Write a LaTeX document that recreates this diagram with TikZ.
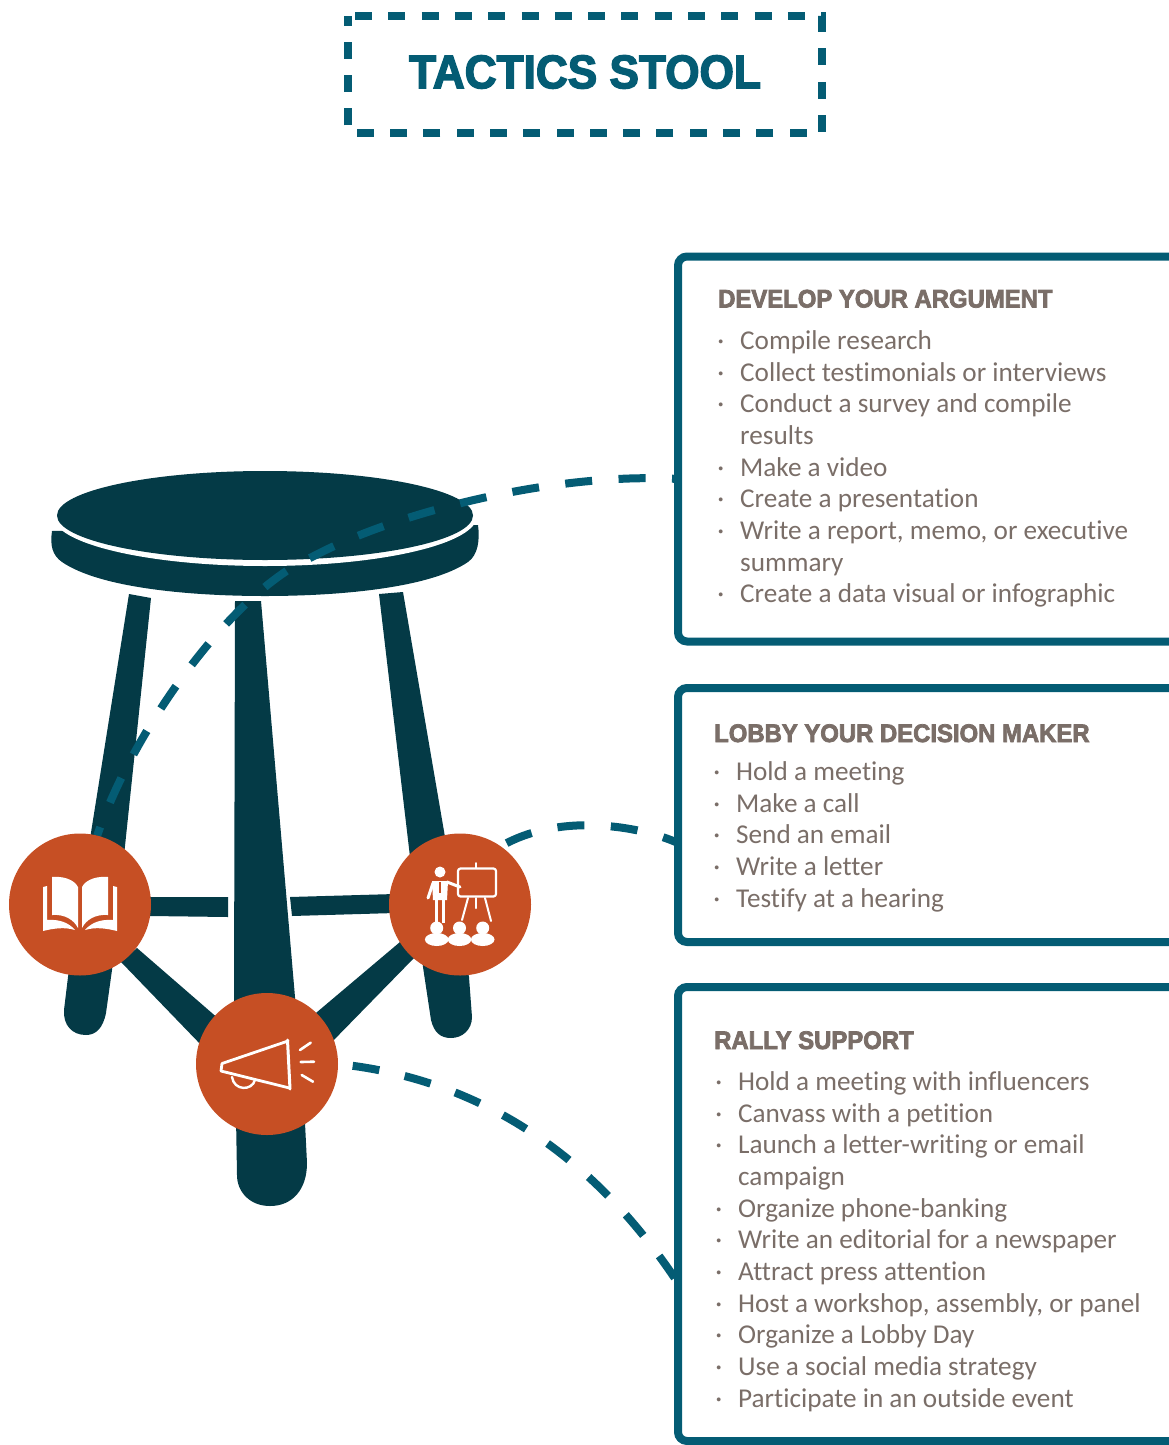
\documentclass[tikz,border=0pt]{standalone}
\usepackage{fontspec}
\setmainfont[Ligatures=NoCommon]{Carlito}
\newfontfamily\heavy[BoldFeatures={FakeBold=3,FakeStretch=0.94}]{Liberation Sans}
\usetikzlibrary{calc}
\pgfdeclarelayer{stool}
\pgfdeclarelayer{links}
\pgfsetlayers{stool,links,main}
\definecolor{teal}{HTML}{045C74}
\definecolor{darkstool}{HTML}{043A46}
\definecolor{rust}{HTML}{C64F24}
\definecolor{txt}{HTML}{7A6E68}
\newcommand{\bl}{\llap{·\hspace{16pt}}}
\tikzset{
  x=1pt,y=-1pt,
  wood/.style={fill=darkstool,draw=none},
  panel/.style={draw=teal,line width=8pt,rounded corners=9pt,rectangle,minimum width=700pt,anchor=north west,inner sep=0pt,outer sep=0pt},
  badge/.style={circle,fill=rust,draw=none,minimum size=142pt,inner sep=0pt,outer sep=0pt},
  link/.style={draw=teal,line width=8pt},
  headtxt/.style={anchor=base west,inner sep=0pt,text=txt,font={\heavy\bfseries\fontsize{25.4}{28}\selectfont}},
  bodytxt/.style={anchor=north west,inner sep=0pt,align=left,text=txt,font={\fontsize{27.2}{31.65}\selectfont}},
  ico/.style={draw=white,line cap=round,line join=round},
  icofill/.style={fill=white,draw=none},
}
\begin{document}
\begin{tikzpicture}
\useasboundingbox (0,0) rectangle (1169,1445);
\clip (0,0) rectangle (1169,1445);
% title
\node[rectangle,minimum width=474pt,minimum height=117pt,inner sep=0pt,outer sep=0pt] (titlebox) at (585,74.5) {};
\draw[teal,line width=8pt,dash pattern=on 17pt off 16.3pt,dash phase=26.3pt] (titlebox.north west) -- (titlebox.north east) -- (titlebox.south east) -- (titlebox.south west) -- cycle;
\node[inner sep=0pt,text=teal,font={\heavy\bfseries\fontsize{47}{50}\selectfont}] (title) at (585,72) {TACTICS STOOL};
% panels
\node[panel,minimum height=385pt] (b1) at (678,256.5) {};
\node[panel,minimum height=254pt] (b2) at (678,688) {};
\node[panel,minimum height=454pt] (b3) at (678,987) {};
% panel text
\node[headtxt] (h1) at (718,307.5) {DEVELOP YOUR ARGUMENT};
\node[bodytxt] (t1) at (740,330.5) {\bl Compile research\\\bl Collect testimonials or interviews\\\bl Conduct a survey and compile\\results\\\bl Make a video\\\bl Create a presentation\\\bl Write a report, memo, or executive\\summary\\\bl Create a data visual or infographic};
\node[headtxt] (h2) at (714,742) {LOBBY YOUR DECISION MAKER};
\node[bodytxt] (t2) at (736,761.5) {\bl Hold a meeting\\\bl Make a call\\\bl Send an email\\\bl Write a letter\\\bl Testify at a hearing};
\node[headtxt] (h3) at (714,1049) {RALLY SUPPORT};
\node[bodytxt] (t3) at (738,1071.5) {\bl Hold a meeting with influencers\\\bl Canvass with a petition\\\bl Launch a letter-writing or email\\campaign\\\bl Organize phone-banking\\\bl Write an editorial for a newspaper\\\bl Attract press attention\\\bl Host a workshop, assembly, or panel\\\bl Organize a Lobby Day\\\bl Use a social media strategy\\\bl Participate in an outside event};
% badges
\node[badge] (lc) at (80,904.5) {};
\node[badge] (rc) at (460,904.5) {};
\node[badge] (bc) at (267,1064) {};
\coordinate (k1) at (312,557);
% stool
\begin{pgfonlayer}{stool}
\fill[wood] (52,531) .. controls (50,545) and (52,555) .. (62,562) .. controls (100,588) and (190,596) .. (265,596) .. controls (340,596) and (430,588) .. (468,562) .. controls (478,555) and (480,540) .. (478,525) -- cycle;
\fill[white] (265,516) ellipse [x radius=212,y radius=50];
\fill[wood] (265,515.5) ellipse [x radius=208,y radius=44.5];
\fill[wood] (129,594) -- (151,598) -- (112,970) -- (106,1013) .. controls (103,1028) and (96,1035) .. (86,1035) .. controls (72,1035) and (63,1025) .. (64,1010) -- (68,977) -- cycle;
\fill[wood] (379,594) -- (403,592) -- (469,977) -- (472,1017) .. controls (472,1030) and (462,1038) .. (451,1038) .. controls (440,1038) and (434,1032) .. (431,1020) -- (423,967) -- cycle;
\fill[wood] (235,601) -- (261,601) -- (295,997) -- (305,1123) -- (307,1163) .. controls (307,1190) and (292,1206) .. (270,1206) .. controls (250,1206) and (237,1192) .. (237,1175) -- (234,1000) -- cycle;
\fill[wood] (150,897) -- (228,897) -- (228,917) -- (150,916) -- cycle;
\fill[wood] (290,897) -- (395,894) -- (395,913) -- (292,916) -- cycle;
\fill[wood] (137,948) -- (220,1020) -- (204,1048) -- (121,962) -- cycle;
\fill[wood] (400,942) -- (310,1018) -- (328,1046) -- (414,958) -- cycle;
\end{pgfonlayer}
% connectors
\begin{pgfonlayer}{links}
\draw[link,dash pattern=on 27pt off 26.5pt,dash phase=21pt] ([yshift=-30pt]b1.west) .. controls (560,472) and (400,510) .. (k1) .. controls (235,590) and (135,725) .. (lc.76);
\draw[link,dash pattern=on 27pt off 26.5pt,dash phase=11pt] ([yshift=-28pt]b2.west) .. controls (640,826) and (560,812) .. (rc.55.6);
\draw[link,dash pattern=on 27pt off 26pt,dash phase=47pt] ([yshift=-69pt]b3.west) .. controls (600,1165) and (490,1080) .. (bc.east);
\end{pgfonlayer}
% book icon
\fill[icofill] (52,877) .. controls (62,876) and (74,879) .. (78,887) -- (78,928) .. controls (74,920) and (65,914) .. (52,915) -- cycle;
\fill[icofill] (108,877) .. controls (98,876) and (86,879) .. (82,887) -- (82,928) .. controls (86,920) and (95,914) .. (108,915) -- cycle;
\fill[icofill] (43,887) -- (47,886) -- (47,920) .. controls (60,919) and (69,923) .. (75,930) .. controls (65,927) and (55,928) .. (43,931) -- cycle;
\fill[icofill] (117,887) -- (113,886) -- (113,920) .. controls (100,919) and (91,923) .. (85,930) .. controls (95,927) and (105,928) .. (117,931) -- cycle;
% presenter icon
\fill[icofill] (440,872) circle (5.5);
\fill[icofill] (432,881) -- (448,881) -- (447,900) -- (433,900) -- cycle;
\draw[ico,line width=3pt] (433,883) -- (428,898);
\draw[ico,line width=3pt] (447,882) -- (460,887);
\draw[ico,line width=3.6pt,line cap=butt] (436.5,898) -- (436.5,923);
\draw[ico,line width=3.6pt,line cap=butt] (443.5,898) -- (443.5,923);
\draw[draw=rust,line width=1.5pt] (440,882) -- (440,893);
\draw[ico,line width=2.2pt,rounded corners=2.5pt] (458,868.5) rectangle (496,896.5);
\draw[ico,line width=2pt] (476,863) -- (476,868);
\draw[ico,line width=2pt] (468,898) -- (462,920);
\draw[ico,line width=2pt] (485,898) -- (491,921);
\draw[ico,line width=2pt] (476,898) -- (476,908);
\foreach \cx in {436.7,459.5,482.7}{
  \fill[icofill] (\cx,928) circle (6.5);
  \fill[icofill] (\cx,939.5) ellipse [x radius=11.8,y radius=6.5];
}
% megaphone icon
\draw[ico,line width=2.8pt] (288,1041) -- (222,1063.5) -- (221,1071) -- (289.5,1088);
\draw[ico,line width=3pt] (287.5,1040) -- (290,1089);
\draw[ico,line width=2.4pt] (232,1077) .. controls (234,1091) and (252,1091) .. (255,1080);
\draw[ico,line width=2.6pt] (300,1050) -- (310.7,1042.7);
\draw[ico,line width=2.6pt] (300.7,1062) -- (314,1061.7);
\draw[ico,line width=2.6pt] (301.7,1075) -- (313,1081.7);
\end{tikzpicture}
\end{document}
